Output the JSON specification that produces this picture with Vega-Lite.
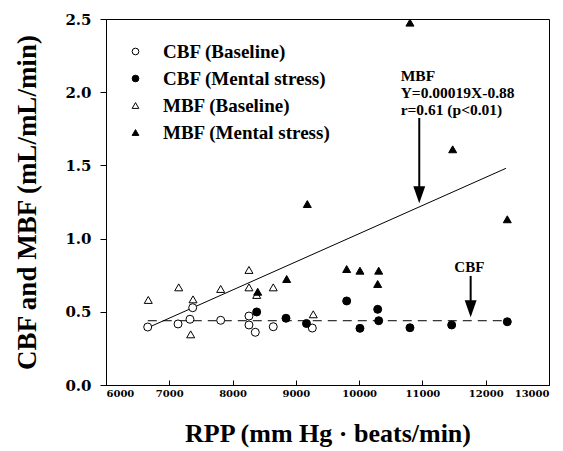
{
  "$schema": "https://vega.github.io/schema/vega-lite/v6.json",
  "width": 443,
  "height": 366,
  "autosize": {"type": "none"},
  "padding": {"left": 106, "top": 19, "right": 14, "bottom": 66},
  "background": "white",
  "config": {
    "view": {"stroke": "black", "strokeWidth": 1},
    "axis": {
      "domainColor": "black", "tickColor": "black", "grid": false,
      "labelColor": "black", "titleColor": "black",
      "labelFont": "DejaVu Serif", "labelFontWeight": "bold",
      "titleFont": "Liberation Serif", "titleFontWeight": "bold"
    },
    "legend": {
      "labelFont": "Liberation Serif", "labelFontWeight": "bold", "labelFontSize": 19,
      "labelColor": "black", "symbolStrokeColor": "black", "symbolStrokeWidth": 1,
      "symbolSize": 45, "rowPadding": 7, "labelOffset": 18, "padding": 0, "labelLimit": 400
    }
  },
  "datasets": {
    "pts": [
      {"rpp": 6668, "flow": 0.581, "series": "MBF (Baseline)"},
      {"rpp": 7149, "flow": 0.667, "series": "MBF (Baseline)"},
      {"rpp": 7375, "flow": 0.585, "series": "MBF (Baseline)"},
      {"rpp": 7338, "flow": 0.346, "series": "MBF (Baseline)"},
      {"rpp": 7812, "flow": 0.656, "series": "MBF (Baseline)"},
      {"rpp": 8259, "flow": 0.786, "series": "MBF (Baseline)"},
      {"rpp": 8259, "flow": 0.667, "series": "MBF (Baseline)"},
      {"rpp": 8381, "flow": 0.615, "series": "MBF (Baseline)"},
      {"rpp": 8643, "flow": 0.667, "series": "MBF (Baseline)"},
      {"rpp": 9275, "flow": 0.483, "series": "MBF (Baseline)"},
      {"rpp": 6659, "flow": 0.396, "series": "CBF (Baseline)"},
      {"rpp": 7138, "flow": 0.417, "series": "CBF (Baseline)"},
      {"rpp": 7327, "flow": 0.449, "series": "CBF (Baseline)"},
      {"rpp": 7370, "flow": 0.528, "series": "CBF (Baseline)"},
      {"rpp": 7812, "flow": 0.442, "series": "CBF (Baseline)"},
      {"rpp": 8259, "flow": 0.471, "series": "CBF (Baseline)"},
      {"rpp": 8259, "flow": 0.410, "series": "CBF (Baseline)"},
      {"rpp": 8359, "flow": 0.360, "series": "CBF (Baseline)"},
      {"rpp": 8643, "flow": 0.398, "series": "CBF (Baseline)"},
      {"rpp": 9260, "flow": 0.389, "series": "CBF (Baseline)"},
      {"rpp": 8381, "flow": 0.499, "series": "CBF (Mental stress)"},
      {"rpp": 8844, "flow": 0.456, "series": "CBF (Mental stress)"},
      {"rpp": 9168, "flow": 0.420, "series": "CBF (Mental stress)"},
      {"rpp": 9803, "flow": 0.574, "series": "CBF (Mental stress)"},
      {"rpp": 10013, "flow": 0.387, "series": "CBF (Mental stress)"},
      {"rpp": 10293, "flow": 0.517, "series": "CBF (Mental stress)"},
      {"rpp": 10309, "flow": 0.439, "series": "CBF (Mental stress)"},
      {"rpp": 10803, "flow": 0.391, "series": "CBF (Mental stress)"},
      {"rpp": 11462, "flow": 0.410, "series": "CBF (Mental stress)"},
      {"rpp": 12341, "flow": 0.432, "series": "CBF (Mental stress)"},
      {"rpp": 9181, "flow": 1.236, "series": "MBF (Mental stress)"},
      {"rpp": 8855, "flow": 0.724, "series": "MBF (Mental stress)"},
      {"rpp": 8397, "flow": 0.637, "series": "MBF (Mental stress)"},
      {"rpp": 12341, "flow": 1.132, "series": "MBF (Mental stress)"},
      {"rpp": 9803, "flow": 0.792, "series": "MBF (Mental stress)"},
      {"rpp": 10013, "flow": 0.781, "series": "MBF (Mental stress)"},
      {"rpp": 10309, "flow": 0.781, "series": "MBF (Mental stress)"},
      {"rpp": 10293, "flow": 0.690, "series": "MBF (Mental stress)"},
      {"rpp": 10803, "flow": 2.475, "series": "MBF (Mental stress)"},
      {"rpp": 11478, "flow": 1.610, "series": "MBF (Mental stress)"}
    ],
    "mbfFit": [
      {"rpp": 6722, "flow": 0.403},
      {"rpp": 12320, "flow": 1.480}
    ],
    "cbfFit": [
      {"rpp": 6660, "flow": 0.439},
      {"rpp": 12330, "flow": 0.439}
    ],
    "arrows": [
      {"rpp": 10950, "top": 1.824, "bottom": 1.30},
      {"rpp": 11762, "top": 0.745, "bottom": 0.52}
    ],
    "notes": [
      {"rpp": 10656, "flow": 2.111, "label": "MBF"},
      {"rpp": 10656, "flow": 1.997, "label": "Y=0.00019X-0.88"},
      {"rpp": 10656, "flow": 1.878, "label": "r=0.61 (p<0.01)"}
    ],
    "cbfNote": [
      {"rpp": 11741, "flow": 0.808, "label": "CBF"}
    ]
  },
  "layer": [
    {
      "data": {"name": "mbfFit"},
      "mark": {"type": "line", "color": "black", "strokeWidth": 1},
      "encoding": {
        "x": {"field": "rpp", "type": "quantitative", "scale": {"domain": [6000, 13000], "nice": false},
          "axis": {"values": [6000, 7000, 8000, 9000, 10000, 11000, 12000, 13000], "format": "d",
            "labelFontSize": 10, "tickSize": -5, "labelPadding": 8,
            "title": "RPP (mm Hg · beats/min)", "titleFontSize": 26, "titlePadding": 22}},
        "y": {"field": "flow", "type": "quantitative", "scale": {"domain": [0, 2.5], "nice": false},
          "axis": {"values": [0, 0.5, 1, 1.5, 2, 2.5], "format": ".1f",
            "labelFontSize": 15, "tickSize": 6, "labelPadding": 9,
            "title": "CBF and MBF (mL/mL/min)", "titleFontSize": 27, "titlePadding": 23}}
      }
    },
    {
      "data": {"name": "cbfFit"},
      "mark": {"type": "line", "color": "black", "strokeWidth": 1, "strokeDash": [9, 6]},
      "encoding": {
        "x": {"field": "rpp", "type": "quantitative"},
        "y": {"field": "flow", "type": "quantitative"}
      }
    },
    {
      "data": {"name": "pts"},
      "mark": {"type": "point", "filled": true, "strokeWidth": 1, "opacity": 1, "size": 64},
      "encoding": {
        "x": {"field": "rpp", "type": "quantitative"},
        "y": {"field": "flow", "type": "quantitative"},
        "fill": {"field": "series", "type": "nominal",
          "scale": {"domain": ["CBF (Baseline)", "CBF (Mental stress)", "MBF (Baseline)", "MBF (Mental stress)"],
            "range": ["white", "black", "white", "black"]},
          "legend": {"title": null, "orient": "none", "legendX": 20, "legendY": 23}},
        "stroke": {"field": "series", "type": "nominal",
          "scale": {"domain": ["CBF (Baseline)", "CBF (Mental stress)", "MBF (Baseline)", "MBF (Mental stress)"],
            "range": ["black", "black", "black", "black"]},
          "legend": {"title": null, "orient": "none", "legendX": 20, "legendY": 23}},
        "shape": {"field": "series", "type": "nominal",
          "scale": {"domain": ["CBF (Baseline)", "CBF (Mental stress)", "MBF (Baseline)", "MBF (Mental stress)"],
            "range": ["circle", "circle", "triangle-up", "triangle-up"]},
          "legend": {"title": null, "orient": "none", "legendX": 20, "legendY": 23}}
      }
    },
    {
      "data": {"name": "arrows"},
      "mark": {"type": "rule", "color": "black", "strokeWidth": 2},
      "encoding": {
        "x": {"field": "rpp", "type": "quantitative"},
        "y": {"field": "top", "type": "quantitative"},
        "y2": {"field": "bottom"}
      }
    },
    {
      "data": {"name": "arrows"},
      "mark": {"type": "point", "shape": "M-0.7,-1L0.7,-1L0,1Z", "filled": true, "color": "black", "opacity": 1, "size": 289},
      "encoding": {
        "x": {"field": "rpp", "type": "quantitative"},
        "y": {"field": "bottom", "type": "quantitative"}
      }
    },
    {
      "data": {"name": "notes"},
      "mark": {"type": "text", "align": "left", "baseline": "middle", "font": "Liberation Serif", "fontWeight": "bold", "fontSize": 15.5, "color": "black"},
      "encoding": {
        "x": {"field": "rpp", "type": "quantitative"},
        "y": {"field": "flow", "type": "quantitative"},
        "text": {"field": "label", "type": "nominal"}
      }
    },
    {
      "data": {"name": "cbfNote"},
      "mark": {"type": "text", "align": "center", "baseline": "middle", "font": "Liberation Serif", "fontWeight": "bold", "fontSize": 15, "color": "black"},
      "encoding": {
        "x": {"field": "rpp", "type": "quantitative"},
        "y": {"field": "flow", "type": "quantitative"},
        "text": {"field": "label", "type": "nominal"}
      }
    }
  ]
}
